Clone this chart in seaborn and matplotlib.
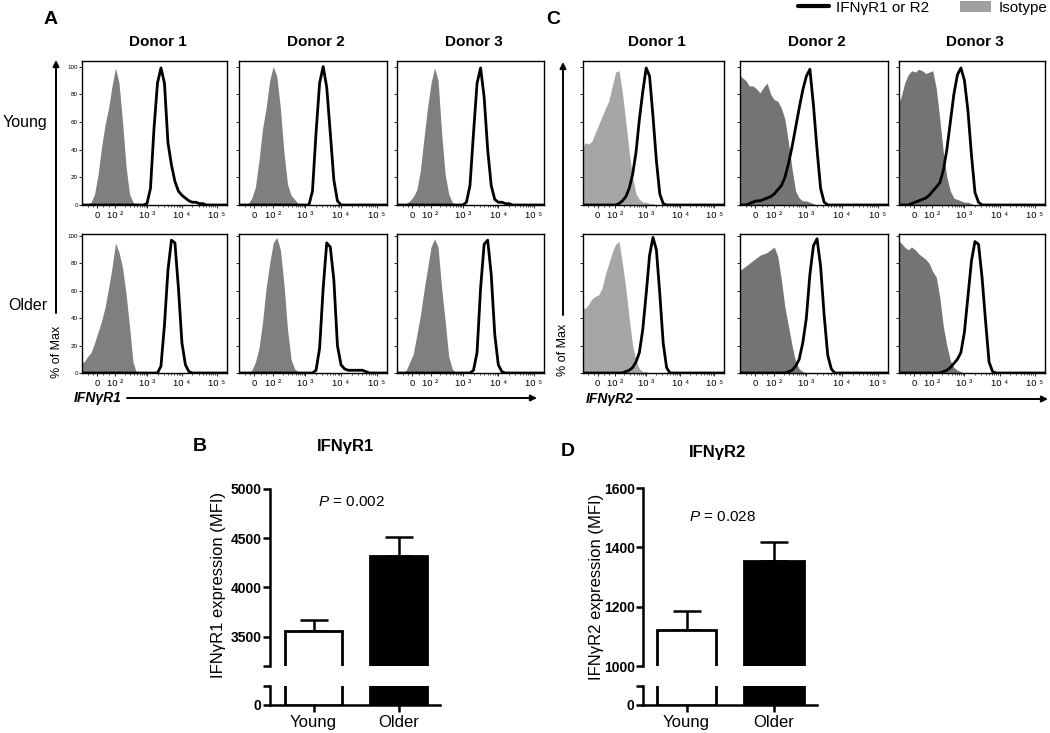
import numpy as np
import pandas as pd
import matplotlib
matplotlib.use("Agg")
import matplotlib.pyplot as plt
import seaborn as sns
from matplotlib.lines import Line2D
from matplotlib.patches import Patch, FancyArrowPatch

# ---------------- data ----------------
# histogram bins on the display (biexponential-like) axis; 43 bins
BINS = np.round(1.1 + 0.1 * np.arange(43), 2)
X_TICK_POS = [1.57, 2.086, 3.0, 4.0, 5.0]
X_TICK_LABELS = ["0", "10 \u00b2", "10 \u00b3", "10 \u2074", "10 \u2075"]
Y_TICKS = [0, 20, 40, 60, 80, 100]
DONORS = ["Donor 1", "Donor 2", "Donor 3"]
ROW_NAMES = ["Young", "Older"]

# Panel A (IFNgR1) % of max, isotype and antibody
AY1_ISO = [0, 0, 0, 2, 8, 22, 42, 58, 70, 86,
           99, 88, 60, 28, 8, 2, 0, 0, 0, 0,
           0, 0, 0, 0, 0, 0, 0, 0, 0, 0,
           0, 0, 0, 0, 0, 0, 0, 0, 0, 0, 0, 0, 0]
AY1_AB = [0, 0, 0, 0, 0, 0, 0, 0, 0, 0,
          0, 0, 0, 0, 0, 0, 0, 0, 0, 1,
          12, 55, 88, 99, 88, 45, 29, 17, 10, 7,
          5, 3, 2, 2, 1, 1, 0, 0, 0, 0, 0, 0, 0]
AY2_ISO = [0, 0, 0, 1, 5, 13, 32, 55, 70, 90,
           100, 93, 70, 38, 15, 7, 4, 1, 0, 0,
           0, 0, 0, 0, 0, 0, 0, 0, 0, 0,
           0, 0, 0, 0, 0, 0, 0, 0, 0, 0, 0, 0, 0]
AY2_AB = [0, 0, 0, 0, 0, 0, 0, 0, 0, 0,
          0, 0, 0, 0, 0, 0, 0, 0, 0, 0,
          0, 10, 52, 88, 100, 85, 52, 18, 3, 0,
          0, 0, 0, 0, 0, 0, 0, 0, 0, 0, 0, 0, 0]
AY3_ISO = [0, 0, 0, 1, 3, 6, 11, 25, 48, 70,
           88, 99, 90, 52, 22, 8, 2, 0, 0, 0,
           0, 0, 0, 0, 0, 0, 0, 0, 0, 0,
           0, 0, 0, 0, 0, 0, 0, 0, 0, 0, 0, 0, 0]
AY3_AB = [0, 0, 0, 0, 0, 0, 0, 0, 0, 0,
          0, 0, 0, 0, 0, 0, 0, 0, 0, 0,
          2, 14, 52, 88, 99, 78, 40, 14, 4, 2,
          2, 1, 1, 0, 0, 0, 0, 0, 0, 0, 0, 0, 0]
AO1_ISO = [8, 8, 12, 15, 22, 30, 38, 48, 62, 77,
           95, 88, 77, 58, 34, 8, 0, 0, 0, 0,
           0, 0, 0, 0, 0, 0, 0, 0, 0, 0,
           0, 0, 0, 0, 0, 0, 0, 0, 0, 0, 0, 0, 0]
AO1_AB = [0, 0, 0, 0, 0, 0, 0, 0, 0, 0,
          0, 0, 0, 0, 0, 0, 0, 0, 0, 0,
          0, 0, 0, 5, 35, 75, 97, 95, 62, 22,
          6, 1, 0, 0, 0, 0, 0, 0, 0, 0, 0, 0, 0]
AO2_ISO = [0, 0, 0, 0, 2, 8, 18, 37, 62, 80,
           95, 99, 90, 65, 32, 10, 3, 1, 0, 0,
           0, 0, 0, 0, 0, 0, 0, 0, 0, 0,
           0, 0, 0, 0, 0, 0, 0, 0, 0, 0, 0, 0, 0]
AO2_AB = [0, 0, 0, 0, 0, 0, 0, 0, 0, 0,
          0, 0, 0, 0, 0, 0, 0, 0, 0, 0,
          0, 0, 2, 18, 62, 95, 92, 68, 20, 6,
          3, 2, 2, 2, 2, 2, 1, 0, 0, 0, 0, 0, 0]
AO3_ISO = [0, 0, 0, 2, 8, 14, 28, 42, 60, 76,
           92, 98, 92, 62, 38, 12, 3, 0, 0, 0,
           0, 0, 0, 0, 0, 0, 0, 0, 0, 0,
           0, 0, 0, 0, 0, 0, 0, 0, 0, 0, 0, 0, 0]
AO3_AB = [0, 0, 0, 0, 0, 0, 0, 0, 0, 0,
          0, 0, 0, 0, 0, 0, 0, 0, 0, 0,
          0, 0, 2, 15, 62, 94, 97, 72, 28, 6,
          1, 0, 0, 0, 0, 0, 0, 0, 0, 0, 0, 0, 0]

# Panel C (IFNgR2)
CY1_ISO = [40, 45, 44, 46, 52, 58, 64, 70, 75, 86,
           96, 97, 81, 60, 38, 20, 8, 4, 2, 2,
           1, 1, 0, 0, 0, 0, 0, 0, 0, 0,
           0, 0, 0, 0, 0, 0, 0, 0, 0, 0, 0, 0, 0]
CY1_AB = [0, 0, 0, 0, 0, 0, 0, 0, 0, 0,
          0, 1, 3, 6, 12, 22, 38, 62, 82, 99,
          93, 64, 32, 8, 1, 0, 0, 0, 0, 0,
          0, 0, 0, 0, 0, 0, 0, 0, 0, 0, 0, 0, 0]
CY2_ISO = [95, 92, 90, 86, 86, 84, 81, 85, 88, 80,
           76, 75, 70, 62, 45, 26, 10, 5, 3, 3,
           2, 1, 0, 0, 0, 0, 0, 0, 0, 0,
           0, 0, 0, 0, 0, 0, 0, 0, 0, 0, 0, 0, 0]
CY2_AB = [0, 0, 0, 1, 2, 3, 3, 4, 5, 6,
          8, 11, 14, 20, 30, 42, 56, 70, 83, 93,
          98, 72, 40, 12, 2, 0, 0, 0, 0, 0,
          0, 0, 0, 0, 0, 0, 0, 0, 0, 0, 0, 0, 0]
CY3_ISO = [72, 78, 88, 94, 97, 96, 98, 97, 95, 96,
           97, 84, 62, 38, 20, 10, 5, 4, 3, 2,
           2, 1, 0, 0, 0, 0, 0, 0, 0, 0,
           0, 0, 0, 0, 0, 0, 0, 0, 0, 0, 0, 0, 0]
CY3_AB = [0, 0, 0, 0, 1, 2, 3, 4, 5, 7,
          10, 13, 16, 25, 40, 60, 80, 94, 99, 90,
          68, 36, 9, 2, 0, 0, 0, 0, 0, 0,
          0, 0, 0, 0, 0, 0, 0, 0, 0, 0, 0, 0, 0]
CO1_ISO = [48, 47, 50, 54, 56, 57, 62, 72, 80, 88,
           94, 96, 80, 62, 40, 20, 9, 3, 1, 1,
           0, 0, 0, 0, 0, 0, 0, 0, 0, 0,
           0, 0, 0, 0, 0, 0, 0, 0, 0, 0, 0, 0, 0]
CO1_AB = [0, 0, 0, 0, 0, 0, 0, 0, 0, 0,
          0, 0, 0, 1, 2, 4, 8, 15, 32, 58,
          86, 99, 90, 58, 22, 4, 0, 0, 0, 0,
          0, 0, 0, 0, 0, 0, 0, 0, 0, 0, 0, 0, 0]
CO2_ISO = [75, 76, 78, 80, 82, 84, 86, 87, 88, 90,
           92, 85, 68, 48, 34, 20, 8, 3, 1, 0,
           0, 0, 0, 0, 0, 0, 0, 0, 0, 0,
           0, 0, 0, 0, 0, 0, 0, 0, 0, 0, 0, 0, 0]
CO2_AB = [0, 0, 0, 0, 0, 0, 0, 0, 0, 0,
          0, 0, 0, 0, 1, 2, 5, 10, 22, 40,
          72, 93, 98, 78, 42, 13, 3, 0, 0, 0,
          0, 0, 0, 0, 0, 0, 0, 0, 0, 0, 0, 0, 0]
CO3_ISO = [97, 95, 92, 90, 92, 90, 87, 85, 83, 80,
           74, 70, 55, 34, 20, 9, 4, 2, 1, 0,
           0, 0, 0, 0, 0, 0, 0, 0, 0, 0,
           0, 0, 0, 0, 0, 0, 0, 0, 0, 0, 0, 0, 0]
CO3_AB = [0, 0, 0, 0, 0, 0, 0, 0, 0, 0,
          0, 0, 0, 1, 2, 4, 7, 10, 15, 30,
          56, 82, 96, 94, 70, 38, 8, 1, 0, 0,
          0, 0, 0, 0, 0, 0, 0, 0, 0, 0, 0, 0, 0]

# Bar charts (MFI, mean and SEM)
GROUPS = ["Young", "Older"]
B_MEAN = [3560, 4320]
B_SEM = [110, 190]
D_MEAN = [1121, 1353]
D_SEM = [64, 64]
B_TICKS = [3200, 3500, 4000, 4500, 5000]
B_TICK_LABELS = ["", "3500", "4000", "4500", "5000"]
D_TICKS = [1000, 1200, 1400, 1600]
D_TICK_LABELS = ["1000", "1200", "1400", "1600"]

# ---------------- style ----------------
sns.set_style("ticks")
plt.rcParams["font.family"] = ["Liberation Sans", "DejaVu Sans"]
plt.rcParams["mathtext.fontset"] = "custom"
plt.rcParams["mathtext.rm"] = "Liberation Sans"
plt.rcParams["mathtext.it"] = "Liberation Sans:italic"
plt.rcParams["mathtext.bf"] = "Liberation Sans:bold"
plt.rcParams["axes.edgecolor"] = "black"
plt.rcParams["xtick.color"] = "black"
plt.rcParams["ytick.color"] = "black"
plt.rcParams["text.color"] = "black"

W, H = 1050, 733
fig = plt.figure(figsize=(W / 100, H / 100), dpi=100)


def rect(x0, y0, x1, y1):
    return [x0 / W, 1 - y1 / H, (x1 - x0) / W, (y1 - y0) / H]


def ftext(x, y, s, **kw):
    fig.text(x / W, 1 - y / H, s, **kw)


def arrow(x0, y0, x1, y1):
    fig.add_artist(FancyArrowPatch((x0 / W, 1 - y0 / H), (x1 / W, 1 - y1 / H),
                                   transform=fig.transFigure, arrowstyle="-|>",
                                   mutation_scale=9, lw=1.4, color="black",
                                   shrinkA=0, shrinkB=0))


minor = [2.086 + np.log10(k) * 0.914 for k in range(2, 10)]
minor += [d + np.log10(k) for d in (3, 4) for k in range(2, 10)]
minor += [1.3, 1.45, 1.75, 1.9]

A_COLS = [(82, 227), (239, 387), (397, 544)]
C_COLS = [(583, 724), (740, 888), (899, 1045)]
ROWS = [(61, 205), (234, 373)]
YTOPS = [104, 101.5]

GRAY_A = "#7f7f7f"
GRAY_C1 = "#a6a6a6"
GRAY_C = "#747474"

panels = [
    (A_COLS[0], 0, AY1_ISO, AY1_AB, GRAY_A, True),
    (A_COLS[1], 0, AY2_ISO, AY2_AB, GRAY_A, False),
    (A_COLS[2], 0, AY3_ISO, AY3_AB, GRAY_A, False),
    (A_COLS[0], 1, AO1_ISO, AO1_AB, GRAY_A, True),
    (A_COLS[1], 1, AO2_ISO, AO2_AB, GRAY_A, False),
    (A_COLS[2], 1, AO3_ISO, AO3_AB, GRAY_A, False),
    (C_COLS[0], 0, CY1_ISO, CY1_AB, GRAY_C1, False),
    (C_COLS[1], 0, CY2_ISO, CY2_AB, GRAY_C, False),
    (C_COLS[2], 0, CY3_ISO, CY3_AB, GRAY_C, False),
    (C_COLS[0], 1, CO1_ISO, CO1_AB, GRAY_C1, False),
    (C_COLS[1], 1, CO2_ISO, CO2_AB, GRAY_C, False),
    (C_COLS[2], 1, CO3_ISO, CO3_AB, GRAY_C, False),
]

for col, r, iso, ab, gcol, show_lab in panels:
    ax = fig.add_axes(rect(col[0], ROWS[r][0], col[1], ROWS[r][1]))
    df = pd.DataFrame({"bin": BINS, "isotype": iso, "antibody": ab})
    ax.fill_between(df["bin"], 0, df["isotype"], color=gcol, lw=0, zorder=1)
    sns.lineplot(data=df, x="bin", y="antibody", color="black", lw=2.0, ax=ax, zorder=3)
    ax.set_xlim(1.14, 5.29)
    ax.set_ylim(0, YTOPS[r])
    ax.set_xticks(X_TICK_POS, X_TICK_LABELS)
    ax.set_xticks(minor, minor=True)
    ax.set_yticks(Y_TICKS)
    ax.set_yticklabels([str(t) for t in Y_TICKS] if show_lab else [])
    ax.set_xlabel("")
    ax.set_ylabel("")
    ax.tick_params(axis="x", which="major", labelsize=6.8, length=2.2, width=0.6, pad=2)
    ax.tick_params(axis="x", which="minor", length=1.4, width=0.5)
    ax.tick_params(axis="y", labelsize=4.5, length=2, width=0.6, pad=1)
    for s in ax.spines.values():
        s.set_visible(True)
        s.set_linewidth(1.0)
        s.set_color("black")

# column titles
for cols in (A_COLS, C_COLS):
    for (x0, x1), name in zip(cols, DONORS):
        ftext((x0 + x1) / 2 + 3, 42, name, ha="center", va="center",
              fontsize=11, fontweight="bold")

# row labels
ftext(47, 123, ROW_NAMES[0], ha="right", va="center", fontsize=11.5)
ftext(47, 305, ROW_NAMES[1], ha="right", va="center", fontsize=11.5)

# axis arrows and labels for flow panels
arrow(56, 313, 56, 60)
arrow(127, 398, 537, 398)
arrow(563, 315, 563, 62)
arrow(637, 399, 1048, 399)
ftext(57, 352, "% of Max", rotation=90, ha="center", va="center", fontsize=9)
ftext(563, 350, "% of Max", rotation=90, ha="center", va="center", fontsize=9)
ftext(98, 398, "IFN\u03b3R1", ha="center", va="center", fontsize=10,
      fontweight="bold", fontstyle="italic")
ftext(610, 399, "IFN\u03b3R2", ha="center", va="center", fontsize=10,
      fontweight="bold", fontstyle="italic")

# panel letters
ftext(51, 20, "A", ha="center", va="center", fontsize=14, fontweight="bold")
ftext(553, 19, "C", ha="center", va="center", fontsize=14, fontweight="bold")
ftext(200, 447, "B", ha="center", va="center", fontsize=14, fontweight="bold")
ftext(568, 452, "D", ha="center", va="center", fontsize=14, fontweight="bold")

# legend
handles = [Line2D([], [], color="black", lw=3, label="IFN\u03b3R1 or R2"),
           Patch(facecolor="#a0a0a0", edgecolor="none", label="Isotype")]
fig.legend(handles=handles, ncol=2, loc="upper right", bbox_to_anchor=(1048 / W, 1.0),
           frameon=False, fontsize=11, handlelength=2.0, handleheight=0.7,
           columnspacing=2.0, handletextpad=0.5, borderpad=0.05, borderaxespad=0)


def bar_panel(x0, x1, y_top, y_break, y_low_top, y_zero, means, sems,
              ylim_up, ticks_up, labels_up, xlim, width):
    ax_up = fig.add_axes(rect(x0, y_top, x1, y_break))
    ax_lo = fig.add_axes(rect(x0, y_low_top, x1, y_zero))
    df = pd.DataFrame({"group": GROUPS, "mfi": means})
    for ax in (ax_up, ax_lo):
        sns.barplot(data=df, x="group", y="mfi", hue="group",
                    palette=["white", "black"], edgecolor="black", linewidth=2,
                    width=width, legend=False, ax=ax, zorder=3)
        ax.set_xlim(xlim)
        ax.set_xlabel("")
        ax.set_ylabel("")
        ax.spines["top"].set_visible(False)
        ax.spines["right"].set_visible(False)
        ax.spines["left"].set_linewidth(1.8)
        ax.spines["bottom"].set_linewidth(1.8)
        ax.tick_params(axis="both", length=5, width=1.8)
        ax.tick_params(axis="y", pad=1)
    ax_up.errorbar([0, 1], means, yerr=[[0, 0], sems], fmt="none", ecolor="black",
                   elinewidth=1.8, capsize=10, capthick=1.8, zorder=2)
    ax_up.set_ylim(ylim_up)
    ax_up.set_yticks(ticks_up)
    ax_up.set_yticklabels(labels_up, fontsize=10, fontweight="bold")
    ax_up.spines["bottom"].set_visible(False)
    ax_up.set_xticks([])
    ax_lo.set_ylim(0, 100)
    ax_lo.set_yticks([0, 100])
    ax_lo.set_yticklabels(["0", ""], fontsize=10, fontweight="bold")
    ax_lo.set_xticks([0, 1], GROUPS)
    ax_lo.tick_params(axis="x", labelsize=12, pad=2)
    return ax_up, ax_lo


bar_panel(270, 440, 489, 666, 686, 705, B_MEAN, B_SEM, (3200, 5000),
          B_TICKS, B_TICK_LABELS, (-0.512, 1.488), 0.67)
bar_panel(643, 817, 488, 666, 686, 705, D_MEAN, D_SEM, (1000, 1600),
          D_TICKS, D_TICK_LABELS, (-0.497, 1.49), 0.68)

ftext(345, 447, "IFN\u03b3R1", ha="center", va="center", fontsize=12, fontweight="bold")
ftext(718, 452, "IFN\u03b3R2", ha="center", va="center", fontsize=12, fontweight="bold")
ftext(351, 502, "$P$ = 0.002", ha="center", va="center", fontsize=11)
ftext(723, 517, "$P$ = 0.028", ha="center", va="center", fontsize=11)
ftext(218, 585, "IFN\u03b3R1 expression (MFI)", rotation=90, ha="center", va="center",
      fontsize=12)
ftext(596, 587, "IFN\u03b3R2 expression (MFI)", rotation=90, ha="center", va="center",
      fontsize=12)

fig.savefig("out.png", dpi=100)
